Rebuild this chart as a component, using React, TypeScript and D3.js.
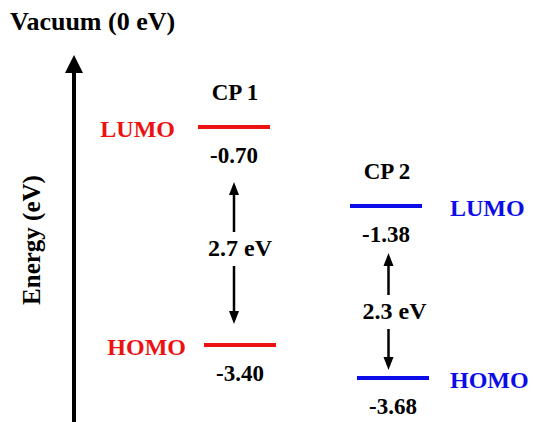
import React from "react";
import * as d3 from "d3";

// energy levels (eV)
const compounds = ["CP 1", "CP 2"];
const lumo = [-0.7, -1.38];
const homo = [-3.4, -3.68];
const gaps = ["2.7 eV", "2.3 eV"];
const colors = ["#ec1212", "#0c0ce8"];

const W = 533;
const H = 422;
const FONT = "'Liberation Serif', 'Times New Roman', serif";

// schematic, not to scale: each compound gets its own vertical placement
const layout = [
  { lumoY: 127, homoY: 345, lumoX: 234, homoX: 240, side: "left", labelX: 175, homoLabelX: 186, gapY: 248, arrowTop: 182, arrowBot: 324 },
  { lumoY: 206, homoY: 378, lumoX: 386, homoX: 393, side: "right", labelX: 450, homoLabelX: 450, gapY: 311, arrowTop: 253, arrowBot: 370 },
];

const fmt = d3.formatLocale({ decimal: ".", thousands: ",", grouping: [3], currency: ["", ""], minus: "-" }).format(".2f");

const Arrow = ({ x, y1, y2, w, head, hw }: any) => {
  const dir = y2 > y1 ? 1 : -1;
  const base = y2 - dir * head;
  return (
    <g>
      <line x1={x} x2={x} y1={y1} y2={base} stroke="#000" strokeWidth={w} />
      <path d={`M${x},${y2}L${x - hw},${base}L${x + hw},${base}Z`} fill="#000" />
    </g>
  );
};

const App = () => {
  const levelW = 72;
  return (
    <svg width={W} height={H} style={{ position: "absolute", left: 0, top: 0, background: "#fff" }} fontFamily={FONT} fontWeight="bold">
      <text x={10} y={30} fontSize={26}>Vacuum (0 eV)</text>
      <Arrow x={74} y1={H + 5} y2={55} w={4} head={18} hw={9} />
      <text transform={`translate(40,240) rotate(-90)`} textAnchor="middle" fontSize={25}>Energy (eV)</text>
      {compounds.map((name, i) => {
        const L = layout[i];
        const y = d3.scaleLinear().domain([lumo[i], homo[i]]).range([L.lumoY, L.homoY]);
        const ly = y(lumo[i]);
        const hy = y(homo[i]);
        const anchor = L.side === "left" ? "end" : "start";
        const gx = (L.lumoX + L.homoX) / 2 - 3 + (i === 1 ? 2 : 0);
        return (
          <g key={name}>
            <text x={L.lumoX + 1} y={ly - 27} textAnchor="middle" fontSize={23}>{name}</text>
            <line x1={L.lumoX - levelW / 2} x2={L.lumoX + levelW / 2} y1={ly} y2={ly} stroke={colors[i]} strokeWidth={4} />
            <line x1={L.homoX - levelW / 2} x2={L.homoX + levelW / 2} y1={hy} y2={hy} stroke={colors[i]} strokeWidth={4} />
            <text x={L.labelX} y={ly + 10} textAnchor={anchor} fontSize={24} fill={colors[i]}>LUMO</text>
            <text x={L.homoLabelX} y={hy + 10} textAnchor={anchor} fontSize={24} fill={colors[i]}>HOMO</text>
            <text x={L.lumoX} y={ly + 36} textAnchor="middle" fontSize={23}>{fmt(lumo[i])}</text>
            <text x={L.homoX} y={hy + 36} textAnchor="middle" fontSize={23}>{fmt(homo[i])}</text>
            <Arrow x={gx} y1={L.gapY - 16} y2={L.arrowTop} w={2.5} head={13} hw={5} />
            <Arrow x={gx} y1={L.gapY + 18} y2={L.arrowBot} w={2.5} head={13} hw={5} />
            <text x={gx + 6} y={L.gapY + 8} textAnchor="middle" fontSize={24}>{gaps[i]}</text>
          </g>
        );
      })}
    </svg>
  );
};

export default App;
